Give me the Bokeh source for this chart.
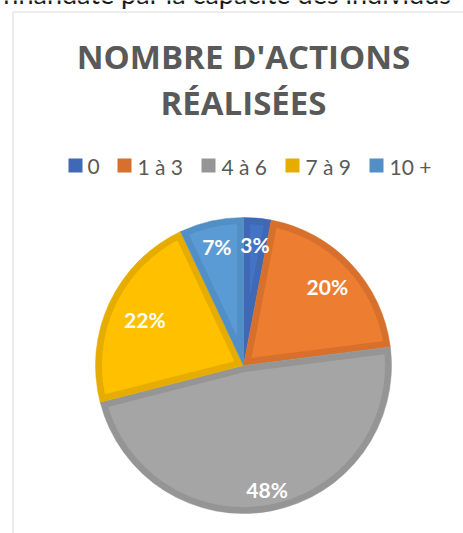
import numpy as np
from bokeh.plotting import figure
from bokeh.models import Range1d, ColumnDataSource
from bokeh.core.properties import value
from bokeh.embed import file_html
from bokeh.resources import INLINE

# ---- data ----
categories = ["0", "1 à 3", "4 à 6", "7 à 9", "10 +"]
percents = [3, 20, 48, 22, 7]
fill_colors = ["#4472C4", "#ED7D31", "#A5A5A5", "#FFC000", "#5B9BD5"]
border_colors = ["#3F69B4", "#D6702C", "#959595", "#E6AD00", "#528FC6"]
title_lines = ["NOMBRE D'ACTIONS", "RÉALISÉES"]
top_text = "nhandate par la capacité des individus"

# ---- layout (figure units = pixels, y up) ----
W, H = 463, 533
CX, CY, R = 243, 168, 148
BORDER = 6.5
label_r = [122, 115, 126, 109, 122]
legend_sq_x = [75, 124, 208, 292, 376]
legend_tx_x = [87, 137, 221, 305, 389]

p = figure(width=W, height=H, output_backend="svg", toolbar_location=None,
           x_range=Range1d(0, W), y_range=Range1d(0, H), min_border=0)
p.axis.visible = False
p.grid.visible = False
p.outline_line_color = None
p.background_fill_color = "white"

# cut-off text line above the chart (as in the reference)
p.text(x=[451], y=[540], text=[top_text], text_align="right",
       text_baseline="middle", text_font=value("Lato"),
       text_font_size="27px", text_color="#1a1a1a")

# chart box border
p.quad(left=[12.5], right=[600], top=[521.5], bottom=[-20], fill_color=None,
       line_color="#D9D9D9", line_width=1)

# title
for i, t in enumerate(title_lines):
    p.text(x=[243], y=[477 - 45.5 * i], text=[t], text_align="center",
           text_baseline="middle", text_font=value("Open Sans"),
           text_font_style="bold", text_font_size="33px", text_color="#595959")

# legend
p.rect(x=legend_sq_x, y=[368] * 5, width=14, height=14,
       fill_color=border_colors, line_color=None)
p.text(x=legend_tx_x, y=[367] * 5, text=categories, text_align="left",
       text_baseline="middle", text_font=value("Lato"),
       text_font_size="21px", text_color="#595959")

# pie
vals = np.array(percents, dtype=float)
frac = vals / vals.sum()
cum = np.concatenate([[0], np.cumsum(frac)])
starts = np.pi / 2 - 2 * np.pi * cum[:-1]
ends = np.pi / 2 - 2 * np.pi * cum[1:]

src = ColumnDataSource(dict(start=starts, end=ends, fill=fill_colors, border=border_colors))
p.wedge(x=CX, y=CY, radius=R, start_angle="start", end_angle="end",
        direction="clock", fill_color="border", line_color="border",
        line_width=0.5, source=src)

# inset fills
xs, ys = [], []
ri = R - BORDER
off = np.arcsin(BORDER / ri)
for a0, a1 in zip(starts, ends):
    half = (a0 - a1) / 2
    m = (a0 + a1) / 2
    ad = BORDER / np.sin(half)
    ax, ay = CX + ad * np.cos(m), CY + ad * np.sin(m)
    ang = np.linspace(a0 - off, a1 + off, 80)
    xs.append(np.concatenate([[ax], CX + ri * np.cos(ang)]))
    ys.append(np.concatenate([[ay], CY + ri * np.sin(ang)]))
p.patches(xs=xs, ys=ys, fill_color=fill_colors, line_color=None)

# data labels
mids = (starts + ends) / 2
lx = CX + np.array(label_r) * np.cos(mids)
ly = CY + np.array(label_r) * np.sin(mids)
p.text(x=lx, y=ly, text=[f"{v}%" for v in percents], text_align="center",
       text_baseline="middle", text_font=value("Lato"), text_font_style="bold",
       text_font_size="21px", text_color="white")

open("out.html", "w").write(file_html(p, INLINE))
